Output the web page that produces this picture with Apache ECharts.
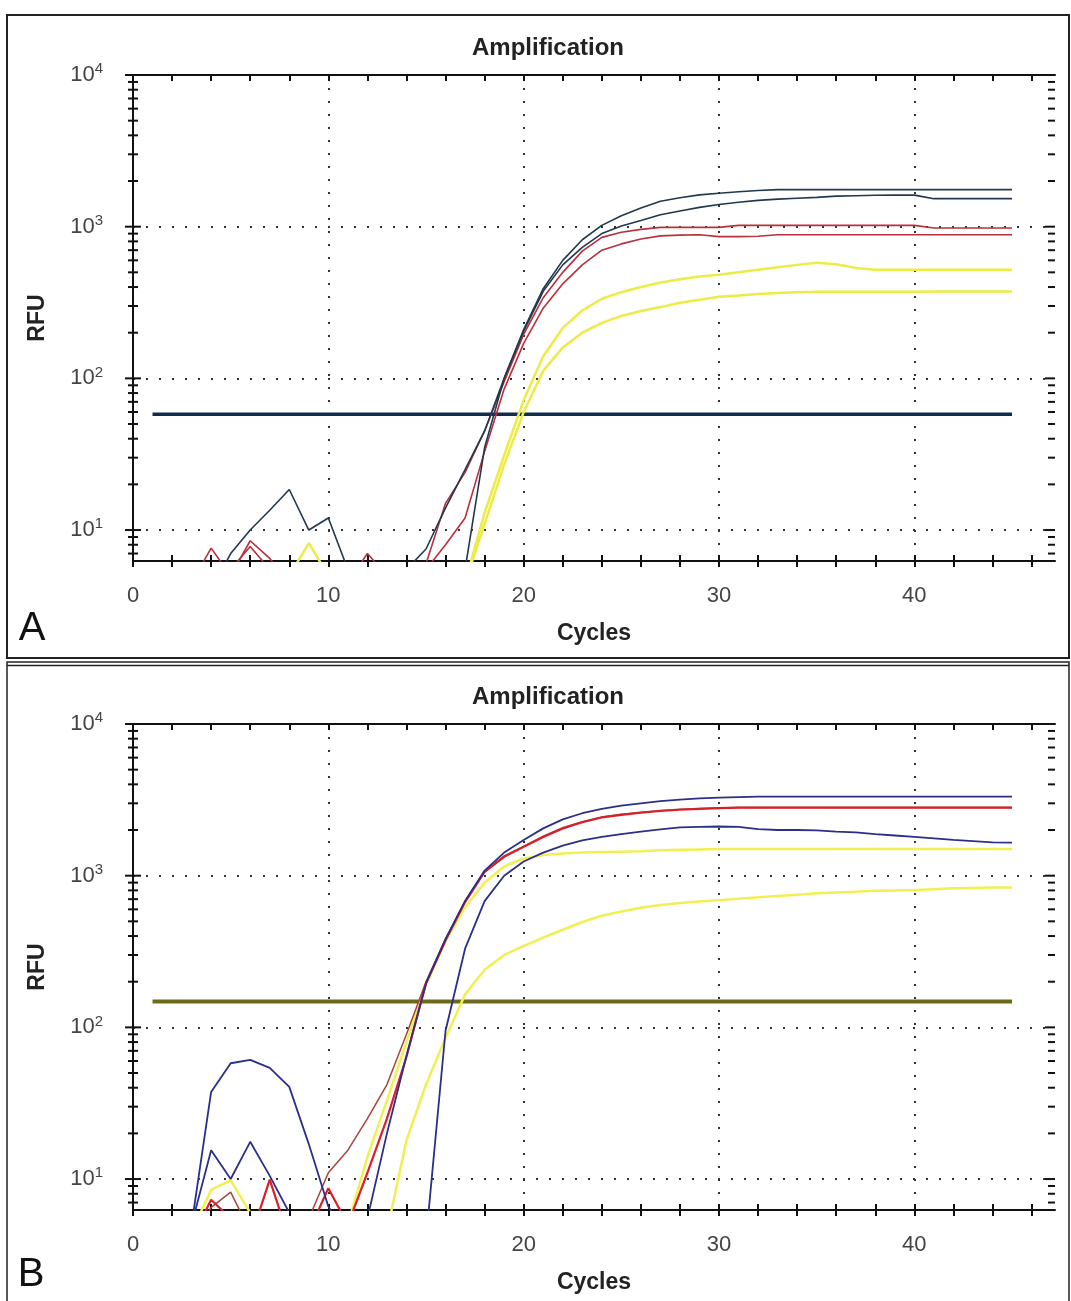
<!DOCTYPE html>
<html>
<head>
<meta charset="utf-8">
<title>Amplification</title>
<script src="https://cdn.jsdelivr.net/npm/echarts@6/dist/echarts.min.js"></script>
<style>
  html, body { margin: 0; padding: 0; background: #fff; }
  #chart { width: 1071px; height: 1301px; }
</style>
</head>
<body>
<div id="chart"></div>
<script>
// cycle numbers (x)
const cycles = [1, 2, 3, 4, 5, 6, 7, 8, 9, 10, 11, 12, 13, 14, 15, 16, 17, 18, 19, 20,
  21, 22, 23, 24, 25, 26, 27, 28, 29, 30, 31, 32, 33, 34, 35, 36, 37, 38, 39, 40,
  41, 42, 43, 44, 45];

// ---- panel A (RFU per cycle) ----
const darkA1 = [4, 4, 4, 4, 4, 4, 4, 4, 4, 4, 4, 4, 4, 4, 4, 4, 5.5, 35, 100, 210,
  390, 600, 820, 1020, 1180, 1330, 1470, 1550, 1620, 1660, 1700, 1730, 1755, 1755, 1755, 1755, 1755, 1755, 1755, 1755,
  1755, 1755, 1755, 1755, 1755];
const darkA2 = [4, 4, 4, 4, 7, 10, 13.5, 18.5, 10, 12, 5.5, 4, 4, 5.5, 7.5, 14, 25, 45, 100, 205,
  375, 560, 730, 900, 1010, 1100, 1200, 1270, 1340, 1400, 1450, 1490, 1520, 1540, 1560, 1590, 1600, 1610, 1615, 1615,
  1530, 1530, 1530, 1530, 1530];
const redA1 = [4, 4, 4.5, 7.6, 5, 8.5, 6.5, 4.5, 4, 4, 4.5, 7, 5, 4, 6, 15, 24, 45, 95, 195,
  340, 500, 690, 850, 920, 960, 990, 990, 990, 990, 1020, 1020, 1020, 1020, 1020, 1020, 1020, 1020, 1020, 1020,
  980, 980, 980, 980, 980];
const redA2 = [4, 4, 4, 4, 5.5, 7.8, 5.5, 4, 4, 4, 4, 4, 4, 4, 5.5, 8, 12, 33, 85, 170,
  290, 420, 560, 700, 770, 830, 870, 880, 885, 860, 860, 865, 885, 885, 885, 885, 885, 885, 885, 885,
  885, 885, 885, 885, 885];
const yellowA1 = [4, 4, 4, 4, 4, 4, 4, 4, 4, 4, 4, 4, 4, 4, 4, 4, 4.5, 13, 31, 72,
  140, 215, 280, 335, 370, 400, 428, 450, 470, 482, 500, 520, 540, 560, 578, 565, 535, 520, 520, 520,
  520, 520, 520, 520, 520];
const yellowA2 = [4, 4, 4, 4, 4, 4, 4, 5, 8.2, 5, 4, 4, 4, 4, 4, 4, 4.5, 11, 27, 60,
  112, 160, 200, 232, 258, 278, 295, 315, 330, 345, 352, 360, 365, 369, 372, 372, 372, 373, 373, 373,
  374, 374, 374, 374, 374];
const thresholdA = 58;

// ---- panel B ----
const blueB1 = [4, 4, 5, 37.5, 58, 61, 54, 40.5, 17, 6.6, 4, 5.5, 20, 65, 195, 380, 680, 1080, 1420, 1720,
  2050, 2350, 2580, 2760, 2900, 3000, 3100, 3170, 3230, 3270, 3300, 3325, 3325, 3325, 3325, 3325, 3325, 3325, 3325, 3325,
  3325, 3325, 3325, 3325, 3325];
const blueB2 = [4, 4, 5, 15.5, 10, 17.6, 10.5, 6, 4, 4, 4, 4, 4, 4, 4, 95, 330, 680, 1000, 1240,
  1420, 1580, 1710, 1800, 1880, 1950, 2020, 2080, 2100, 2110, 2100, 2030, 2000, 2000, 1990, 1950, 1930, 1880, 1840, 1800,
  1760, 1720, 1690, 1660, 1650];
const redB1 = [4, 4, 4, 7.3, 5.5, 4, 9.9, 4, 4.5, 8.7, 5, 11, 25, 64, 195, 375, 670, 1060, 1330, 1550,
  1800, 2050, 2250, 2420, 2520, 2600, 2670, 2720, 2760, 2790, 2810, 2810, 2810, 2810, 2810, 2810, 2810, 2810, 2810, 2810,
  2810, 2810, 2810, 2810, 2810];
const redB2 = [4, 4, 4, 6.5, 8.2, 4.5, 4, 4, 5.5, 11, 15.5, 25, 42, 90, 200, 385, 680, 1060, 1350, 1560,
  1820, 2070, 2270, 2440, 2540, 2620, 2690, 2740, 2770, 2790, 2810, 2810, 2810, 2810, 2810, 2810, 2810, 2810, 2810, 2810,
  2810, 2810, 2810, 2810, 2810];
const yellowB1 = [4, 4, 4.5, 8.5, 9.8, 6, 4, 4, 4, 4, 5, 14, 33, 80, 190, 370, 620, 900, 1150, 1300,
  1370, 1400, 1420, 1430, 1440, 1450, 1470, 1480, 1490, 1500, 1500, 1500, 1500, 1500, 1500, 1500, 1500, 1500, 1500, 1500,
  1500, 1500, 1500, 1500, 1500];
const yellowB2 = [4, 4, 4, 4, 4, 4, 4, 4, 4, 4, 4, 4, 4.5, 18, 42, 85, 165, 240, 300, 345,
  390, 440, 495, 545, 580, 615, 640, 660, 675, 690, 705, 720, 735, 750, 765, 775, 785, 795, 800, 805,
  815, 825, 830, 835, 837];
const thresholdB = 148;
const thresholdCycles = [1, 45];

// axis ticks / labels
const xLabelValues = [0, 10, 20, 30, 40];
const xMinorTicks = [0, 2, 4, 6, 8, 10, 12, 14, 16, 18, 20, 22, 24, 26, 28, 30, 32, 34, 36, 38, 40, 42, 44, 46];
const yTickValues = [7, 8, 9, 10, 20, 30, 40, 50, 60, 70, 80, 90, 100, 200, 300, 400, 500, 600, 700, 800, 900,
  1000, 2000, 3000, 4000, 5000, 6000, 7000, 8000, 9000, 10000];

const X_MAX = 47.2;
const Y_MIN = 6.25;
const Y_MAX = 10000;
const FONT = '"Liberation Sans", Arial, sans-serif';
const AXIS_COLOR = "#111";
const LABEL_COLOR = "#444";

const chart = echarts.init(document.getElementById("chart"));

const toPairs = (arr) => cycles.map((c, i) => [c, arr[i]]);
const flatLine = (v) => thresholdCycles.map((c) => [c, v]);

// x axes for one grid: labels + dotted grid, tick marks out / in, top frame
function xAxesFor(g) {
  return [
    {
      type: "value", gridIndex: g, position: "bottom", min: 0, max: X_MAX, interval: 10,
      name: "Cycles", nameLocation: "middle", nameGap: 61,
      nameTextStyle: { fontFamily: FONT, fontWeight: "bold", fontSize: 23, color: "#222" },
      axisLine: { lineStyle: { color: AXIS_COLOR, width: 2 } },
      axisTick: { show: false },
      axisLabel: { customValues: xLabelValues, margin: 24, fontFamily: FONT, fontSize: 22, color: LABEL_COLOR },
      splitLine: { show: true, showMinLine: false, showMaxLine: false,
        lineStyle: { color: "#333", width: 2, type: [2, 11] } },
    },
    {
      type: "value", gridIndex: g, position: "bottom", min: 0, max: X_MAX,
      axisLine: { show: false },
      axisTick: { customValues: xMinorTicks, length: 6, lineStyle: { color: AXIS_COLOR, width: 2 } },
      axisLabel: { show: false }, splitLine: { show: false },
    },
    {
      type: "value", gridIndex: g, position: "bottom", min: 0, max: X_MAX,
      axisLine: { show: false },
      axisTick: { customValues: xMinorTicks, inside: true, length: 6, lineStyle: { color: AXIS_COLOR, width: 2 } },
      axisLabel: { show: false }, splitLine: { show: false },
    },
    {
      type: "value", gridIndex: g, position: "top", min: 0, max: X_MAX,
      axisLine: { lineStyle: { color: AXIS_COLOR, width: 2 } },
      axisTick: { customValues: xMinorTicks, inside: true, length: 6, lineStyle: { color: AXIS_COLOR, width: 2 } },
      axisLabel: { show: false }, splitLine: { show: false },
    },
  ];
}

// log axes: ECharts picks whole decades by itself (no interval, so ticks are not counted from min)
function yAxesFor(g) {
  return [
    {
      type: "log", logBase: 10, gridIndex: g, position: "left", min: Y_MIN, max: Y_MAX,
      name: "RFU", nameLocation: "middle", nameGap: 84, nameRotate: 90,
      nameTextStyle: { fontFamily: FONT, fontWeight: "bold", fontSize: 23, color: "#222" },
      axisLine: { show: true, lineStyle: { color: AXIS_COLOR, width: 2 } },
      axisTick: { show: false },
      axisLabel: {
        margin: 30,
        formatter: (v) => {
          const e = Math.log10(v);
          if (Math.abs(e - Math.round(e)) > 1e-6) return "";
          return "{b|10}{s|" + Math.round(e) + "}";
        },
        rich: {
          b: { fontFamily: FONT, fontSize: 22, color: LABEL_COLOR },
          s: { fontFamily: FONT, fontSize: 15, color: LABEL_COLOR, padding: [0, 0, 12, 0] },
        },
      },
      splitLine: { show: true, showMinLine: false, showMaxLine: false,
        lineStyle: { color: "#333", width: 2, type: [2, 11] } },
    },
    {
      type: "log", logBase: 10, gridIndex: g, position: "right", min: Y_MIN, max: Y_MAX,
      axisLine: { show: true, lineStyle: { color: AXIS_COLOR, width: 2 } },
      axisTick: { show: false }, axisLabel: { show: false }, splitLine: { show: false },
    },
  ];
}

// log minor/major ticks on the frame sides, placed through the axis scale
function renderYTicks(params, api) {
  const v = api.value(0);
  const len = api.value(1) ? 8 : 5;
  const l = api.coord([0, v]);
  const r = api.coord([X_MAX, v]);
  const st = { stroke: AXIS_COLOR, lineWidth: 2 };
  return {
    type: "group",
    children: [
      { type: "line", shape: { x1: l[0] - len, y1: l[1], x2: l[0] + len, y2: l[1] }, style: st },
      { type: "line", shape: { x1: r[0] - len - 2, y1: r[1], x2: r[0], y2: r[1] }, style: st },
    ],
  };
}
const yTickData = yTickValues.map((v) => [v, Number.isInteger(Math.log10(v)) ? 1 : 0]);

function curve(name, data, color, width, xi, yi) {
  return {
    name, type: "line", xAxisIndex: xi, yAxisIndex: yi,
    data: data, showSymbol: false, symbol: "none",
    lineStyle: { color, width }, itemStyle: { color }, silent: true,
  };
}

const option = {
  animation: false,
  backgroundColor: "#fff",
  grid: [
    { left: 133, top: 75, width: 922, height: 486 },
    { left: 133, top: 724, width: 922, height: 486 },
  ],
  xAxis: [...xAxesFor(0), ...xAxesFor(1)],
  yAxis: [...yAxesFor(0), ...yAxesFor(1)],
  graphic: [
    // panel frames
    { type: "rect", shape: { x: 7, y: 15, width: 1062, height: 643 }, style: { fill: null, stroke: "#222", lineWidth: 2 } },
    { type: "rect", shape: { x: 7, y: 662, width: 1062, height: 640 }, style: { fill: null, stroke: "#222", lineWidth: 1.5 } },
    { type: "line", shape: { x1: 7, y1: 665.5, x2: 1069, y2: 665.5 }, style: { stroke: "#222", lineWidth: 1.5 } },
    // titles
    { type: "text", x: 548, y: 48, style: { text: "Amplification", font: 'bold 24px "Liberation Sans", Arial', fill: "#222", align: "center", verticalAlign: "middle" } },
    { type: "text", x: 548, y: 697, style: { text: "Amplification", font: 'bold 24px "Liberation Sans", Arial', fill: "#222", align: "center", verticalAlign: "middle" } },
    // panel letters
    { type: "text", x: 32, y: 629, style: { text: "A", font: '40px "Liberation Sans", Arial', fill: "#111", align: "center", verticalAlign: "middle" } },
    { type: "text", x: 31, y: 1275, style: { text: "B", font: '40px "Liberation Sans", Arial', fill: "#111", align: "center", verticalAlign: "middle" } },
  ],
  series: [
    // panel A
    curve("threshold A", flatLine(thresholdA), "#0f2d4c", 3.5, 0, 0),
    curve("A yellow 1", toPairs(yellowA1), "#ecec45", 2.5, 0, 0),
    curve("A yellow 2", toPairs(yellowA2), "#ecec45", 2.5, 0, 0),
    curve("A red 1", toPairs(redA1), "#b8303a", 1.6, 0, 0),
    curve("A red 2", toPairs(redA2), "#b8303a", 1.6, 0, 0),
    curve("A dark 1", toPairs(darkA1), "#22384e", 1.6, 0, 0),
    curve("A dark 2", toPairs(darkA2), "#22384e", 1.6, 0, 0),
    // panel B
    curve("threshold B", flatLine(thresholdB), "#6c6b1c", 4, 4, 2),
    curve("B yellow 1", toPairs(yellowB1), "#f0f052", 2.5, 4, 2),
    curve("B yellow 2", toPairs(yellowB2), "#f0f052", 2.5, 4, 2),
    curve("B red 2", toPairs(redB2), "#a8443a", 1.5, 4, 2),
    curve("B red 1", toPairs(redB1), "#d9202a", 2.2, 4, 2),
    curve("B blue 1", toPairs(blueB1), "#2b2f88", 1.8, 4, 2),
    curve("B blue 2", toPairs(blueB2), "#2b2f88", 1.8, 4, 2),
    // frame ticks on the log axes
    { type: "custom", xAxisIndex: 0, yAxisIndex: 0, encode: { x: 1, y: 0 }, data: yTickData, renderItem: renderYTicks, silent: true, z: 5 },
    { type: "custom", xAxisIndex: 4, yAxisIndex: 2, encode: { x: 1, y: 0 }, data: yTickData, renderItem: renderYTicks, silent: true, z: 5 },
  ],
};

chart.setOption(option);
</script>
</body>
</html>
